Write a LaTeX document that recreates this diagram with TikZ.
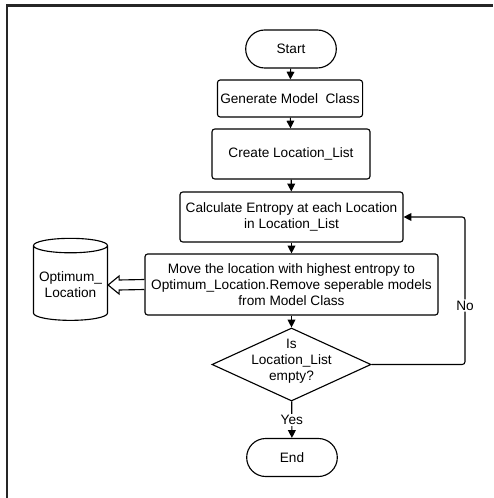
\documentclass[tikz,border=0pt]{standalone}
\usepackage{fontspec}
\setmainfont{Liberation Sans}
\usetikzlibrary{arrows.meta}
\usetikzlibrary{shapes.geometric,shapes.misc,calc}

\begin{document}
\begin{tikzpicture}[x=0.025cm, y=-0.025cm, >={Triangle[length=5.5pt,width=5.5pt]},
    font=\fontsize{9.7pt}{11.4pt}\selectfont, line width=0.8pt,
    term/.style={rounded rectangle, draw, minimum width=2.5cm, minimum height=0.95cm},
    proc/.style={rectangle, rounded corners=2pt, draw, align=center, inner sep=2pt},
    flow/.style={->, line width=0.8pt}]

      \useasboundingbox (0,0) rectangle (493,498);
      \draw[line width=1.5pt, black!85] (7,498) -- (7,5.5) -- (493,5.5);

      \node[term] (start) at (291,49) {Start};
      \node[proc, minimum width=3.6cm, minimum height=0.925cm] (gen) at (290,98.5) {Generate Model\ \ Class};
      \node[proc, minimum width=3.95cm, minimum height=1.25cm] (create) at (291,154) {Create Location\_List};
      \node[proc, minimum width=5.575cm, minimum height=1.25cm] (calc) at (291.5,217) {Calculate Entropy at each Location\\in Location\_List};
      \node[proc, minimum width=7.325cm, minimum height=1.525cm] (move) at (291.5,284.5) {Move the location with highest entropy to\\Optimum\_Location.Remove seperable models\\from Model Class};

      \node[diamond, draw, minimum width=3.975cm, minimum height=1.825cm, inner sep=0pt,
            label={[align=center, yshift=2pt]center:Is\\Location\_List\\empty?}] (dec) at (291.5,364.5) {};
      \node[term] (end) at (292,457.5) {End};

      \node[cylinder, draw, shape border rotate=90, aspect=0.2, minimum width=1.85cm, minimum height=2.05cm,
            align=center] (opt) at (70.5,285) {Optimum\_\\Location};

      \coordinate (noturn) at (465,217);

      \draw[flow] (start) -- (gen);
      \draw[flow] (gen) -- (create);
      \draw[flow] (create) -- (calc);
      \draw[flow] (calc) -- (move);
      \draw[flow] (move) -- (dec);
      \draw[flow] (dec) -- node[fill=white, inner sep=1pt] {Yes} (end);
      \draw[flow, rounded corners=2pt] (dec.east) -- (dec.east -| noturn)
            -- node[fill=white, inner sep=1pt, pos=0.4] {No} (noturn) -- (calc.east);

      % hollow arrow into the store
      \draw[fill=white] ($(move.west)+(0,-5)$) -- ($(opt.east)+(11,-5)$) -- ($(opt.east)+(11,-9)$)
            -- (opt.east) -- ($(opt.east)+(11,9)$) -- ($(opt.east)+(11,5)$) -- ($(move.west)+(0,5)$);

    \end{tikzpicture}
\end{document}
